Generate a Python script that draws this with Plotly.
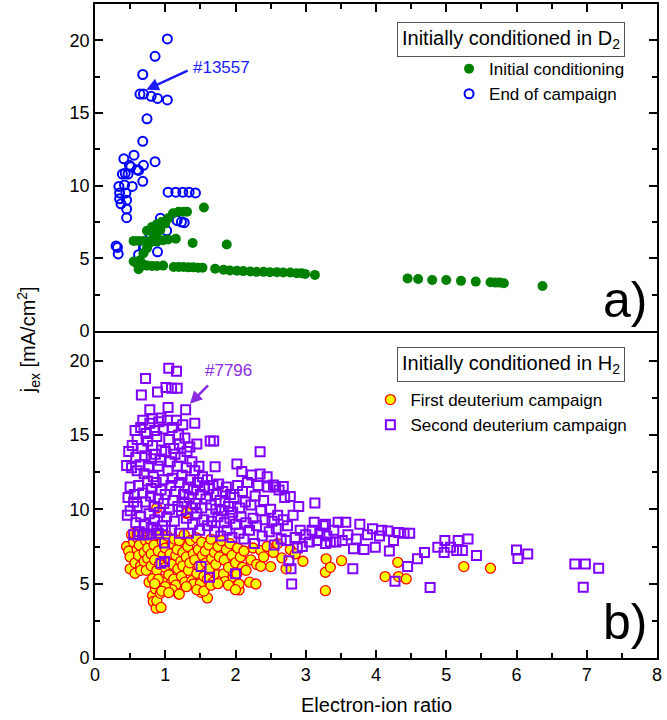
import plotly.graph_objects as go

# === Panel a) : initially conditioned in D2 ===
# End of campaign (open blue circles)
end_x = [1.03, 0.855, 0.68, 0.64, 0.69, 0.80, 0.89, 1.03, 0.74, 0.68, 0.855, 0.555, 0.41, 0.49, 0.51,
         0.60, 0.62, 0.69, 0.39, 0.43, 0.47, 0.68, 0.34, 0.42, 0.53, 0.35, 0.44, 0.35, 0.45, 0.37,
         0.45, 0.45, 0.30, 0.32, 0.33, 1.04, 1.15, 1.25, 1.34, 1.43, 0.93, 1.17, 1.23, 1.27, 1.02,
         0.69, 0.89, 0.78, 0.87, 0.62, 0.70]
end_y = [20.1, 18.9, 17.65, 16.3, 16.3, 16.15, 16.0, 15.9, 14.6, 13.05, 11.65, 12.1, 11.85, 11.4, 11.3,
         11.1, 11.05, 11.4, 10.8, 10.85, 10.8, 10.3, 9.95, 10.05, 9.95, 9.5, 9.5, 9.1, 9.0, 8.75,
         8.4, 7.8, 5.85, 5.75, 5.3, 9.55, 9.55, 9.55, 9.55, 9.5, 7.75, 7.6, 7.5, 7.45, 6.9,
         5.7, 5.45, 6.7, 6.9, 5.25, 5.8]

# Initial conditioning (filled green circles)
init_x = [1.55, 1.875, 1.39, 1.15,
          0.64, 0.69, 0.74, 0.78, 0.83, 0.88, 0.93, 1.00, 1.04, 1.11, 1.19, 1.26, 1.31,
          0.55, 0.62, 0.69, 0.78, 0.88, 0.97, 1.04,
          0.74, 0.81, 0.88, 0.95,
          0.55, 0.59, 0.64, 0.69, 0.74, 0.81, 0.88, 0.97, 0.62,
          1.12, 1.19, 1.26, 1.33, 1.40, 1.47, 1.53,
          1.71, 1.83, 1.92, 2.02, 2.11, 2.21, 2.30, 2.40, 2.49, 2.59, 2.68, 2.78, 2.87, 2.94, 2.99, 3.13,
          4.45, 4.60, 4.80, 5.00, 5.21, 5.42, 5.63, 5.70, 5.76, 5.82, 6.37]
init_y = [8.5, 5.95, 6.05, 6.35,
          4.86, 5.35, 5.7, 6.05, 6.4, 6.75, 6.95, 7.4, 7.75, 8.1, 8.2, 8.2, 8.2,
          6.2, 6.2, 6.2, 6.15, 6.15, 6.25, 6.3,
          6.9, 7.15, 7.35, 7.5,
          4.78, 4.67, 4.43, 4.55, 4.5, 4.48, 4.48, 4.5, 4.25,
          4.4, 4.4, 4.4, 4.38, 4.38, 4.36, 4.36,
          4.28, 4.22, 4.16, 4.14, 4.12, 4.09, 4.07, 4.07, 4.05, 4.05, 4.02, 4.02, 3.98, 3.98, 3.93, 3.86,
          3.62, 3.58, 3.51, 3.51, 3.45, 3.40, 3.36, 3.33, 3.33, 3.29, 3.1]

# === Panel b) : initially conditioned in H2 ===
# First deuterium campaign (yellow circles, red edge)
first_x = [0.45, 0.48, 0.50, 0.50, 0.52, 0.55, 0.57, 0.57, 0.60, 0.60, 0.62, 0.63, 0.65, 0.65, 0.67,
           0.70, 0.70, 0.72, 0.73, 0.75, 0.75, 0.77, 0.78, 0.80, 0.80, 0.82, 0.82, 0.83, 0.84, 0.85,
           0.86, 0.87, 0.88, 0.88, 0.90, 0.90, 0.92, 0.93, 0.94, 0.95, 0.96, 0.97, 0.98, 1.00, 1.00,
           1.02, 1.03, 1.05, 1.05, 1.07, 1.08, 1.10, 1.10, 1.12, 1.13, 1.15, 1.15, 1.17, 1.18, 1.19,
           1.20, 1.22, 1.23, 1.25, 1.25, 1.27, 1.28, 1.30, 1.30, 1.32, 1.33, 1.35, 1.36, 1.38, 1.40,
           1.40, 1.42, 1.44, 1.45, 1.47, 1.48, 1.50, 1.51, 1.52, 1.53, 1.55, 1.57, 1.58, 1.60, 1.60,
           1.62, 1.63, 1.65, 1.66, 1.68, 1.70, 1.72, 1.74, 1.75, 1.77, 1.80, 1.80, 1.83, 1.84, 1.85,
           1.87, 1.90, 1.92, 1.95, 1.97, 1.99, 2.00, 2.02, 2.03, 2.05, 2.05, 2.07, 2.10, 2.12, 2.15,
           2.20, 2.22, 2.25, 2.29, 2.30, 2.36, 2.36, 2.40, 2.45, 2.50, 2.54, 2.60, 2.66, 2.72, 2.78,
           2.85, 2.96, 3.28, 3.28, 3.29, 3.35, 3.51, 4.13, 4.31, 4.32, 4.43, 5.25, 5.63,
           0.88, 0.55, 0.60, 1.31, 1.10, 1.20, 1.00, 0.95, 1.05, 1.30, 1.45, 1.55, 1.65, 1.75, 1.90,
           2.00, 0.90, 0.85]
first_y = [7.5, 7.2, 6.0, 6.8, 8.3, 7.8, 5.7, 6.4, 7.3, 8.1, 6.9, 7.6, 6.2, 5.9, 8.2,
           7.1, 6.5, 7.9, 5.9, 6.7, 7.4, 5.1, 8.0, 6.2, 7.0, 5.35, 4.2, 3.8, 7.6, 6.6,
           4.65, 3.35, 3.86, 5.9, 7.2, 8.3, 6.3, 4.35, 3.4, 5.3, 7.8, 6.9, 5.1, 7.4, 6.1,
           4.76, 8.2, 5.6, 6.7, 7.0, 5.0, 7.7, 6.3, 5.3, 8.0, 6.9, 4.9, 7.3, 6.0, 4.3,
           7.9, 6.5, 5.5, 7.1, 6.2, 8.3, 5.1, 6.8, 9.74, 7.5, 5.9, 6.4, 7.9, 5.2, 4.98,
           7.0, 6.6, 8.1, 5.7, 7.3, 6.2, 5.0, 4.42, 7.8, 6.9, 5.5, 7.2, 6.4, 4.04, 5.3,
           7.6, 6.0, 8.0, 6.7, 5.1, 7.1, 6.3, 5.6, 7.5, 6.8, 5.2, 7.9, 5.66, 6.6, 5.14,
           7.3, 6.1, 7.7, 6.9, 5.4, 4.83, 6.4, 5.66, 7.4, 4.58, 4.98, 6.8, 6.1, 7.2, 5.9,
           5.1, 6.6, 7.4, 4.98, 6.3, 6.17, 7.23, 6.8, 7.5, 6.15, 7.1, 7.7, 6.73, 6.0, 7.3,
           7.0, 6.51, 4.53, 5.77, 6.67, 6.1, 6.55, 5.48, 6.44, 5.48, 5.32, 6.15, 6.04,
           10.1, 8.4, 8.35, 9.79, 4.6, 4.3, 4.8, 4.5, 4.4, 4.8, 4.6, 4.5, 4.9, 5.0, 4.9,
           4.6, 5.3, 5.0]

# Second deuterium campaign (open violet squares)
second_x = [0.45, 0.46, 0.47, 0.48, 0.50, 0.50, 0.52, 0.53, 0.55, 0.55, 0.56, 0.57, 0.58, 0.58, 0.60,
            0.60, 0.60, 0.62, 0.63, 0.64, 0.65, 0.65, 0.66, 0.67, 0.68, 0.68, 0.70, 0.70, 0.71, 0.72,
            0.72, 0.73, 0.74, 0.75, 0.75, 0.76, 0.77, 0.78, 0.78, 0.79, 0.80, 0.80, 0.80, 0.82, 0.82,
            0.83, 0.84, 0.85, 0.85, 0.86, 0.87, 0.88, 0.88, 0.89, 0.90, 0.90, 0.91, 0.92, 0.93, 0.94,
            0.94, 0.95, 0.96, 0.97, 0.97, 0.98, 0.99, 0.99, 0.94, 1.00, 1.00, 1.01, 1.02, 1.03, 1.04,
            1.04, 1.05, 1.05, 1.06, 1.07, 1.08, 1.09, 1.09, 1.10, 1.10, 1.11, 1.12, 1.13, 1.14, 1.15,
            1.16, 1.16, 1.17, 1.17, 1.18, 1.19, 1.20, 1.20, 1.20, 1.22, 1.23, 1.24, 1.25, 1.26, 1.27,
            1.28, 1.29, 1.30, 1.30, 1.31, 1.32, 1.33, 1.34, 1.35, 1.36, 1.37, 1.38, 1.39, 1.40, 1.42,
            1.42, 1.43, 1.45, 1.45, 1.46, 1.48, 1.49, 1.50, 1.51, 1.52, 1.53, 1.55, 1.56, 1.58, 1.60,
            1.60, 1.62, 1.63, 1.64, 1.65, 1.66, 1.68, 1.69, 1.70, 1.71, 1.72, 1.73, 1.75, 1.76, 1.78,
            1.79, 1.80, 1.82, 1.84, 1.85, 1.87, 1.88, 1.90, 1.92, 1.93, 1.95, 1.96, 1.98, 2.00, 2.00,
            2.02, 2.03, 2.05, 2.06, 2.08, 2.09, 2.10, 2.12, 2.14, 2.15, 2.17, 2.20, 2.22, 2.23, 2.25,
            2.27, 2.28, 2.30, 2.32, 2.35, 2.35, 2.36, 2.38, 2.40, 2.42, 2.45, 2.46, 2.48, 2.50, 2.52,
            2.54, 2.55, 2.57, 2.58, 2.60, 2.62, 2.65, 2.68, 2.68, 2.70, 2.72, 2.74, 2.76, 2.78, 2.79,
            2.80, 2.82, 2.85, 2.88, 2.90, 2.92, 2.95, 3.00, 3.05, 3.09, 3.12, 3.13, 3.16, 3.20, 3.25,
            3.28, 3.28, 3.30, 3.35, 3.40, 3.43, 3.46, 3.52, 3.57, 3.60, 3.67, 3.68, 3.72, 3.77, 3.83,
            3.88, 3.95, 3.99, 4.05, 4.08, 4.17, 4.19, 4.25, 4.27, 4.32, 4.40, 4.45, 4.48, 4.59, 4.69,
            4.77, 4.88, 4.97, 4.98, 5.06, 5.15, 5.17, 5.23, 5.31, 5.43, 6.00, 6.02, 6.16, 6.83, 6.98,
            6.95, 7.17, 0.62, 0.70, 0.80, 0.90, 1.00]
second_y = [12.95, 9.6, 10.8, 13.9, 11.5, 9.9, 12.8, 14.3, 8.3, 10.5, 11.0, 15.3, 13.5, 9.1, 12.6,
            14.7, 10.2, 11.6, 8.5, 13.0, 15.5, 9.5, 17.7, 14.1, 11.1, 16.0, 12.4, 9.0, 13.6, 18.8,
            10.5, 15.1, 8.3, 11.9, 14.6, 12.9, 9.7, 16.7, 15.8, 10.9, 13.4, 11.4, 8.8, 14.3, 16.1,
            12.2, 10.2, 15.3, 9.3, 13.7, 11.8, 14.9, 8.6, 17.9, 12.9, 10.7, 15.9, 9.8, 13.3, 16.15,
            11.3, 14.0, 8.9, 12.0, 15.4, 10.4, 7.74, 6.5, 6.37, 13.9, 11.0, 18.2, 9.5, 16.0, 16.85,
            12.6, 19.5, 14.7, 10.0, 13.2, 11.6, 18.15, 8.6, 15.5, 12.1, 10.6, 14.1, 9.2, 13.7, 11.2,
            19.3, 16.0, 18.15, 12.9, 10.2, 15.0, 8.4, 11.8, 14.4, 13.5, 9.9, 12.3, 15.7, 11.0, 10.5,
            14.8, 16.7, 12.8, 9.4, 13.9, 11.5, 8.4, 10.8, 14.2, 12.0, 10.1, 13.2, 9.0, 11.3, 15.8,
            12.6, 10.4, 14.4, 9.7, 11.8, 12.9, 8.6, 11.0, 6.15, 10.1, 12.2, 9.3, 11.5, 10.7, 8.9,
            12.0, 11.4, 5.43, 14.6, 10.3, 9.2, 11.6, 14.6, 8.5, 12.87, 10.0, 11.0, 9.5, 11.7, 10.6,
            8.2, 9.9, 11.2, 9.1, 10.5, 11.5, 8.6, 10.2, 9.4, 11.0, 8.1, 9.8, 10.8, 5.66, 9.0,
            13.05, 11.6, 8.4, 10.1, 9.5, 12.54, 11.2, 8.0, 10.5, 9.1, 11.8, 8.6, 10.3, 12.32, 9.4,
            7.7, 10.9, 8.9, 11.6, 13.88, 12.38, 9.9, 8.2, 10.6, 9.3, 12.2, 11.5, 8.5, 10.0, 9.2,
            11.64, 7.6, 11.5, 8.7, 9.6, 11.3, 8.0, 11.53, 9.3, 10.8, 7.9, 8.9, 6.55, 10.86, 6.0,
            4.98, 9.6, 8.1, 7.4, 10.19, 8.6, 7.5, 8.3, 7.8, 8.6, 9.14, 10.42, 7.9, 8.4, 8.9,
            9.0, 7.7, 8.2, 7.8, 8.6, 7.8, 9.14, 7.9, 9.14, 8.3, 6.0, 7.35, 8.0, 9.0, 7.3,
            8.3, 8.7, 7.45, 8.2, 8.6, 8.55, 7.2, 7.9, 5.16, 8.45, 8.4, 6.15, 8.4, 6.67, 7.1,
            4.75, 7.45, 7.1, 7.9, 7.45, 7.23, 7.9, 7.23, 8.0, 6.9, 7.27, 6.7, 7.0, 6.33, 6.33,
            4.76, 6.04, 8.3, 8.3, 8.35, 8.4, 8.6]

FONT = "Liberation Sans, Arial, sans-serif"

fig = go.Figure()

# panel a (top): blue first so the green sits on top
fig.add_trace(go.Scatter(x=end_x, y=end_y, mode="markers", name="End of campaign",
                         xaxis="x2", yaxis="y2", legend="legend", legendrank=2,
                         marker=dict(symbol="circle-open", size=9, color="#0000ff",
                                     line=dict(width=2, color="#0000ff"))))
fig.add_trace(go.Scatter(x=init_x, y=init_y, mode="markers", name="Initial conditioning",
                         xaxis="x2", yaxis="y2", legend="legend", legendrank=1,
                         marker=dict(symbol="circle", size=10, color="#008000")))

# panel b (bottom)
fig.add_trace(go.Scatter(x=first_x, y=first_y, mode="markers", name="First deuterium campaign",
                         xaxis="x", yaxis="y", legend="legend2",
                         marker=dict(symbol="circle", size=10, color="#ffff00",
                                     line=dict(width=1.3, color="#ff0000"))))
fig.add_trace(go.Scatter(x=second_x, y=second_y, mode="markers", name="Second deuterium campaign",
                         xaxis="x", yaxis="y", legend="legend2",
                         marker=dict(symbol="square-open", size=9, color="#8000ff",
                                     line=dict(width=2, color="#8000ff"))))

axis_common = dict(showgrid=False, zeroline=False, showline=True, linecolor="black", linewidth=1.6,
                   ticks="inside", ticklen=8, tickwidth=1.5, tickcolor="black",
                   tickfont=dict(family=FONT, size=18, color="black"))
minor_x = dict(dtick=0.5, ticks="inside", ticklen=5, tickwidth=1.5, tickcolor="black")
minor_y = dict(dtick=2.5, ticks="inside", ticklen=5, tickwidth=1.5, tickcolor="black")

fig.update_layout(
    width=667, height=720,
    margin=dict(l=95, r=10, t=4, b=62),
    plot_bgcolor="white", paper_bgcolor="white",
    font=dict(family=FONT, color="black"),
    # bottom x axis: no mirrored line, the top panel already draws the divider
    xaxis=dict(axis_common, range=[0, 8], dtick=1, mirror=False, anchor="y", minor=minor_x),
    xaxis2=dict(axis_common, range=[0, 8], dtick=1, mirror=True, anchor="y2", side="top",
                matches="x", showticklabels=False, minor=minor_x),
    yaxis=dict(axis_common, domain=[0, 0.5], range=[0, 22], dtick=5, mirror="ticks", anchor="x",
               minor=minor_y),
    yaxis2=dict(axis_common, domain=[0.5, 1], range=[0, 22.5], dtick=5, mirror="ticks", anchor="x2",
                minor=minor_y),
    legend=dict(x=0.63, y=0.928, xanchor="left", yanchor="top", bgcolor="rgba(0,0,0,0)",
                font=dict(family=FONT, size=17), tracegroupgap=0),
    legend2=dict(x=0.49, y=0.422, xanchor="left", yanchor="top", bgcolor="rgba(0,0,0,0)",
                 font=dict(family=FONT, size=17), tracegroupgap=0),
)

# --- text boxes, labels and arrows ---
notes = [
    dict(text="Initially conditioned in D<sub>2</sub>", x=0.741, y=0.945),
    dict(text="Initially conditioned in H<sub>2</sub>", x=0.741, y=0.449),
]
for n in notes:
    fig.add_annotation(xref="paper", yref="paper", x=n["x"], y=n["y"], text=n["text"],
                       xanchor="center", yanchor="middle", showarrow=False,
                       font=dict(family=FONT, size=20, color="black"),
                       bordercolor="#555555", borderwidth=1, borderpad=4, bgcolor="white")

for lbl, yy in [("a)", 0.547), ("b)", 0.055)]:
    fig.add_annotation(xref="paper", yref="paper", x=0.943, y=yy, text=lbl, showarrow=False,
                       xanchor="center", yanchor="middle",
                       font=dict(family=FONT, size=50, color="black"))

fig.add_annotation(xref="paper", yref="paper", x=-0.119, y=0.486, textangle=-90, showarrow=False,
                   xanchor="center", yanchor="middle",
                   text="j<sub>ex</sub> [mA/cm<sup>2</sup>]", font=dict(family=FONT, size=20))
fig.add_annotation(xref="paper", yref="paper", x=0.5, y=-0.072, showarrow=False,
                   xanchor="center", yanchor="middle",
                   text="Electron-ion ratio", font=dict(family=FONT, size=20))

# shot markers
fig.add_annotation(xref="x2", yref="y2", x=1.37, y=18.1, xanchor="left", yanchor="middle",
                   text="#13557", showarrow=False, font=dict(family=FONT, size=17, color="#1a1aff"))
fig.add_annotation(xref="x2", yref="y2", x=0.73, y=16.6, ax=1.34, ay=17.96, axref="x2", ayref="y2",
                   text="", showarrow=True, arrowhead=2, arrowsize=1, arrowwidth=2.5,
                   arrowcolor="#1a1aff")
fig.add_annotation(xref="x", yref="y", x=1.54, y=19.35, xanchor="left", yanchor="middle",
                   text="#7796", showarrow=False, font=dict(family=FONT, size=17, color="#8a2be2"))
fig.add_annotation(xref="x", yref="y", x=1.35, y=17.1, ax=1.63, ay=18.45, axref="x", ayref="y",
                   text="", showarrow=True, arrowhead=2, arrowsize=1, arrowwidth=2.5,
                   arrowcolor="#8a2be2")

# the default page keeps an 8px body margin; drop it so the figure fills the window
fig.write_html("out.html", config={"displayModeBar": False},
               post_script="document.body.style.margin='0';")
